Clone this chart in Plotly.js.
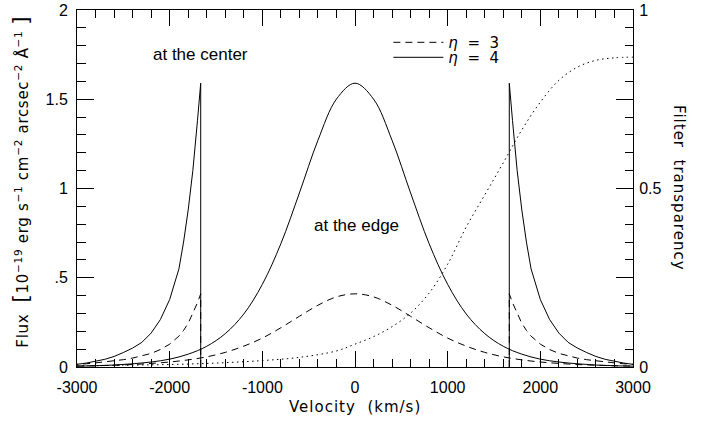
<!DOCTYPE html>
<html><head><meta charset="utf-8">
<script src="https://cdn.plot.ly/plotly-3.0.1.min.js"></script>
<style>html,body{margin:0;padding:0;background:#fff;} #chart{width:705px;height:426px;}</style>
</head><body><div id="chart"></div>
<script>
// Profiles "at the center" (velocity in km/s, flux in 1e-19 units)
const centerVelocity = [-3000,-2800,-2600,-2400,-2200,-2000,-1800,-1600,-1400,-1200,-1000,-800,-600,-400,-200,0,
  200,400,600,800,1000,1200,1400,1600,1800,2000,2200,2400,2600,2800,3000];
const centerFluxEta4 = [0.005,0.007,0.011,0.018,0.028,0.044,0.072,0.116,0.187,0.297,0.463,0.691,0.975,1.270,1.501,1.590,
  1.501,1.270,0.975,0.691,0.463,0.297,0.187,0.116,0.072,0.044,0.028,0.018,0.011,0.007,0.005];
const centerFluxEta3 = [0.005,0.007,0.010,0.014,0.020,0.028,0.040,0.057,0.082,0.117,0.162,0.220,0.284,0.346,0.393,0.410,
  0.393,0.346,0.284,0.220,0.162,0.117,0.082,0.057,0.040,0.028,0.020,0.014,0.010,0.007,0.005];

// Profiles "at the edge" (right branch; the left branch is its mirror image)
const edgeVelocity = [1665,1665,1700,1750,1800,1850,1900,2000,2100,2200,2300,2400,2500,2600,2700,2800,2900,3000];
const edgeFluxEta4 = [0,1.590,1.380,1.100,0.880,0.700,0.550,0.378,0.266,0.190,0.138,0.106,0.081,0.059,0.043,0.031,0.022,0.015];
const edgeFluxEta3 = [0,0.410,0.360,0.300,0.245,0.205,0.173,0.128,0.098,0.076,0.062,0.050,0.041,0.034,0.028,0.023,0.018,0.015];

// Filter transparency (right axis)
const filterVelocity = [-3000,-2500,-2000,-1500,-1000,-600,-200,0,200,400,600,800,1000,1200,1400,1600,1800,2000,2200,2400,2600,2800,3000];
const filterTransparency = [0.003,0.005,0.007,0.011,0.018,0.027,0.045,0.064,0.085,0.113,0.151,0.207,0.288,0.392,0.482,0.572,0.664,0.742,0.803,0.840,0.859,0.866,0.868];

// Tick labels
const xTickVals = [-3000,-2000,-1000,0,1000,2000,3000];
const xTickText = ['-3000','-2000','-1000','0','1000','2000','3000'];
const yTickVals = [0,0.5,1,1.5,2];
const yTickText = ['0','.5','1','1.5','2'];
const y2TickVals = [0,0.25,0.5,0.75,1];
const y2TickText = ['0',' ','0.5',' ','1'];

const leftEdgeVelocity = edgeVelocity.map(v => -v);
const solid = {color:'#000', width:1};
const dashed = {color:'#000', width:1, dash:'7px,5px'};

const traces = [
  {x:centerVelocity, y:centerFluxEta3, mode:'lines', line:Object.assign({shape:'spline'}, dashed), name:'<i>η</i>\u00a0\u00a0=\u00a0\u00a03', legend:'legend'},
  {x:centerVelocity, y:centerFluxEta4, mode:'lines', line:Object.assign({shape:'spline'}, solid), name:'<i>η</i>\u00a0\u00a0=\u00a0\u00a04', legend:'legend2'},
  {x:edgeVelocity, y:edgeFluxEta4, mode:'lines', line:solid, showlegend:false},
  {x:leftEdgeVelocity, y:edgeFluxEta4, mode:'lines', line:solid, showlegend:false},
  {x:edgeVelocity, y:edgeFluxEta3, mode:'lines', line:dashed, showlegend:false},
  {x:leftEdgeVelocity, y:edgeFluxEta3, mode:'lines', line:dashed, showlegend:false},
  {x:filterVelocity, y:filterTransparency, yaxis:'y2', mode:'lines', line:{color:'#000', width:1, dash:'1.5px,3.5px', shape:'spline'}, showlegend:false}
];

const tickFont = {family:'Liberation Sans, Arial, sans-serif', size:16, color:'#000'};
const titleFont = {family:'DejaVu Sans, sans-serif', size:15, color:'#000'};
const legendFont = {family:'DejaVu Sans, sans-serif', size:15, color:'#000'};
const sp = (s, ls) => '<span style="letter-spacing:' + ls + 'px">' + s + '</span>';

const layout = {
  width:705, height:426,
  margin:{l:77, r:72, t:10, b:59},
  paper_bgcolor:'#fff', plot_bgcolor:'#fff',
  showlegend:true,
  legend:{x:0.56, y:0.955, xanchor:'left', yanchor:'top', bgcolor:'rgba(0,0,0,0)', borderwidth:0, font:legendFont, itemwidth:50},
  legend2:{x:0.56, y:0.913, xanchor:'left', yanchor:'top', bgcolor:'rgba(0,0,0,0)', borderwidth:0, font:legendFont, itemwidth:50},
  xaxis:{range:[-3000,3000], tickmode:'array', tickvals:xTickVals, ticktext:xTickText,
         ticks:'inside', ticklen:16, tickwidth:1, tickcolor:'#000', ticklabelstandoff:6,
         showline:true, linecolor:'#000', linewidth:1, mirror:'ticks',
         showgrid:false, zeroline:false, tickfont:tickFont,
         minor:{tickmode:'linear', tick0:-3000, dtick:200, ticks:'inside', ticklen:8, tickcolor:'#000', tickwidth:1, showgrid:false}},
  yaxis:{range:[0,2], tickmode:'array', tickvals:yTickVals, ticktext:yTickText,
         ticks:'inside', ticklen:17, tickwidth:1, tickcolor:'#000', ticklabelstandoff:5,
         showline:true, linecolor:'#000', linewidth:1, mirror:false,
         showgrid:false, zeroline:false, tickfont:tickFont,
         minor:{tickmode:'linear', tick0:0, dtick:0.1, ticks:'inside', ticklen:9, tickcolor:'#000', tickwidth:1, showgrid:false}},
  yaxis2:{range:[0,1], overlaying:'y', side:'right', tickmode:'array', tickvals:y2TickVals, ticktext:y2TickText,
         ticks:'inside', ticklen:17, tickwidth:1, tickcolor:'#000', ticklabelstandoff:2,
         showline:true, linecolor:'#000', linewidth:1,
         showgrid:false, zeroline:false, tickfont:tickFont,
         minor:{tickmode:'linear', tick0:0, dtick:0.05, ticks:'inside', ticklen:8, tickcolor:'#000', tickwidth:1, showgrid:false}},
  annotations:[
    {text:'at the center', x:-1670, y:1.75, xref:'x', yref:'y', showarrow:false, font:{family:'Liberation Sans, Arial, sans-serif', size:17, color:'#000'}},
    {text:'at the edge', x:20, y:0.79, xref:'x', yref:'y', showarrow:false, font:{family:'Liberation Sans, Arial, sans-serif', size:17, color:'#000'}},
    {text:sp('Velocity  (km/s)', 1), x:0.5, y:-0.142, xref:'paper', yref:'paper', showarrow:false, font:titleFont},
    {text:sp('Flux  <span style="font-size:22px">[</span>10<sup>−19</sup> erg s<sup>−1</sup> cm<sup>−2</sup> arcsec<sup>−2</sup> Å<sup>−1</sup> <span style="font-size:22px">]</span>', 0.7),
     x:-0.128, y:0.52, xref:'paper', yref:'paper', showarrow:false, textangle:-90, font:titleFont},
    {text:sp('Filter  transparency', 1), x:1.103, y:0.501, xref:'paper', yref:'paper', showarrow:false, textangle:90, font:titleFont}
  ]
};

Plotly.newPlot('chart', traces, layout, {staticPlot:true, displayModeBar:false});
</script>
</body></html>
